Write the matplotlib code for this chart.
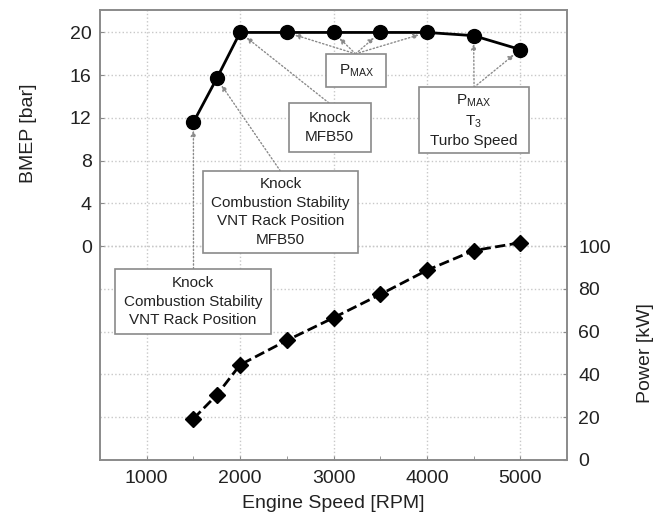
import matplotlib
matplotlib.use("Agg")
import matplotlib.pyplot as plt
from matplotlib.ticker import MultipleLocator
from matplotlib.patches import Rectangle
from matplotlib.transforms import blended_transform_factory

plt.rcParams['font.family'] = ['Liberation Sans', 'DejaVu Sans']
plt.rcParams['mathtext.fontset'] = 'custom'
plt.rcParams['mathtext.rm'] = 'Liberation Sans'
plt.rcParams['mathtext.it'] = 'Liberation Sans:italic'

# ---- data ----
rpm = [1500, 1750, 2000, 2500, 3000, 3500, 4000, 4500, 5000]
bmep = [11.6, 15.7, 20.0, 20.0, 20.0, 20.0, 20.0, 19.7, 18.4]
power = [19.3, 30.4, 44.5, 55.9, 66.5, 77.4, 88.7, 97.9, 101.6]

bmep_ticks = [0, 4, 8, 12, 16, 20]
power_ticks = [0, 20, 40, 60, 80, 100]
x_ticks = [1000, 2000, 3000, 4000, 5000]

box_texts = [
    "P$_{\\mathrm{MAX}}$",
    "Knock\nMFB50",
    "P$_{\\mathrm{MAX}}$\nT$_{3}$\nTurbo Speed",
    "Knock\nCombustion Stability\nVNT Rack Position\nMFB50",
    "Knock\nCombustion Stability\nVNT Rack Position",
]
# indices into rpm/bmep of the points each box points to
box_targets = [[3, 4, 5, 6], [2], [7, 8], [1], [0]]

fig = plt.figure(figsize=(6.67, 5.15), dpi=100)
ax = fig.add_axes([100/667, 1 - 460/515, 467/667, 450/515])
ax2 = ax.twinx()

spine_col = '#8a8a8a'
grid_col = '#c8c8c8'
txt_col = '#222222'

ax.set_xlim(500, 5500)
ax.set_ylim(-20.0, 22.1)
ax2.set_ylim(0, 210.4)

ax.set_xticks(x_ticks)
ax.xaxis.set_minor_locator(MultipleLocator(500))
ax.set_yticks(bmep_ticks)
ax2.set_yticks(power_ticks)

for a in (ax, ax2):
    for s in a.spines.values():
        s.set_color(spine_col)
        s.set_linewidth(1.2)
ax.tick_params(axis='both', which='both', direction='in', colors=spine_col,
               labelcolor=txt_col, labelsize=14, length=3)
ax.tick_params(axis='x', which='both', pad=7)
ax.tick_params(axis='y', pad=6)
ax2.tick_params(axis='y', direction='in', colors=spine_col,
                labelcolor=txt_col, labelsize=14, length=3, pad=8)

# grids: all drawn on the bottom axes so nothing covers the markers
ax.grid(True, axis='x', which='major', linestyle=':', color=grid_col, lw=1)
ax.grid(True, axis='y', linestyle=':', color=grid_col, lw=1)
ax.set_axisbelow(True)
btr = blended_transform_factory(ax.transAxes, ax2.transData)
for p in power_ticks[1:]:
    ax.plot([0, 1], [p, p], transform=btr, linestyle=':', color=grid_col,
            lw=1, zorder=0.5)

ax.plot(rpm, bmep, linestyle='-', color='black', lw=2,
        marker='o', markersize=10, zorder=3)
ax2.plot(rpm, power, linestyle='--', color='black', lw=2,
         marker='D', markersize=8, zorder=3)

ax.set_xlabel("Engine Speed [RPM]", fontsize=14, color=txt_col, labelpad=6)
ax.set_ylabel("BMEP [bar]", fontsize=14, color=txt_col)
ax.yaxis.set_label_coords(-0.135, 0.727)
ax2.set_ylabel("Power [kW]", fontsize=14, color=txt_col)
ax2.yaxis.set_label_coords(1.15, 0.238)

# annotation boxes (x0, x1, y0, y1) and arrow start points, in data coords
box_extents = [(2925, 3565, 14.87, 18.0),
               (2520, 3397, 8.80, 13.41),
               (3915, 5088, 8.70, 14.87),
               (1601, 3264, -0.62, 7.04),
               (661, 2330, -8.23, -2.12)]
arrow_starts = [(3236, 18.0), (2950, 13.41), (4505, 14.87), (2431, 7.04), (1501, -2.12)]

for text, tg, ext, st in zip(box_texts, box_targets, box_extents, arrow_starts):
    x0, x1, y0, y1 = ext
    ax.add_patch(Rectangle((x0, y0), x1 - x0, y1 - y0, fc='white',
                           ec=spine_col, lw=1.2, zorder=6))
    ax.text((x0 + x1) / 2, (y0 + y1) / 2, text, ha='center', va='center',
            fontsize=11, color=txt_col, linespacing=1.4, zorder=7)
    for i in tg:
        ax.annotate('', xy=(rpm[i], bmep[i]), xytext=st,
                    arrowprops=dict(arrowstyle='-|>', linestyle=':', color='#8a8a8a',
                                    lw=1.0, mutation_scale=8, shrinkA=0, shrinkB=6),
                    zorder=5)

fig.savefig("out.png", dpi=100, facecolor='white')
